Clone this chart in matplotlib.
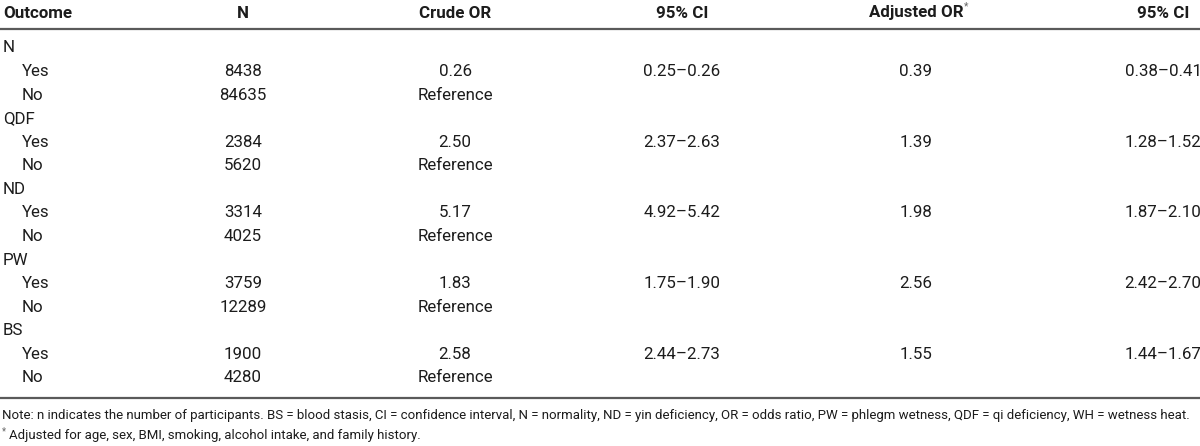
import matplotlib.pyplot as plt

FONT = ["Roboto", "DejaVu Sans"]

headers = ["Outcome", "N", "Crude OR", "95% CI", "Adjusted OR", "95% CI"]
groups = ["N", "QDF", "ND", "PW", "BS"]
n_yes = ["8438", "2384", "3314", "3759", "1900"]
n_no = ["84635", "5620", "4025", "12289", "4280"]
crude_or = ["0.26", "2.50", "5.17", "1.83", "2.58"]
crude_ci = ["0.25\u20130.26", "2.37\u20132.63", "4.92\u20135.42", "1.75\u20131.90", "2.44\u20132.73"]
adj_or = ["0.39", "1.39", "1.98", "2.56", "1.55"]
adj_ci = ["0.38\u20130.41", "1.28\u20131.52", "1.87\u20132.10", "2.42\u20132.70", "1.44\u20131.67"]
note = ("Note: n indicates the number of participants. BS = blood stasis, CI = confidence interval, "
        "N = normality, ND = yin deficiency, OR = odds ratio, PW = phlegm wetness, QDF = qi deficiency, "
        "WH = wetness heat.")
footnote = "Adjusted for age, sex, BMI, smoking, alcohol intake, and family history."

# table rows: group label, then Yes / No
rows = []
for i, g in enumerate(groups):
    rows.append([g, "", "", "", "", ""])
    rows.append(["Yes", n_yes[i], crude_or[i], crude_ci[i], adj_or[i], adj_ci[i]])
    rows.append(["No", n_no[i], "Reference", "", "", ""])

W, H = 1200, 446
fig = plt.figure(figsize=(W / 100, H / 100), dpi=100)
ax = fig.add_axes([0, 0, 1, 1])
ax.set_xlim(0, W); ax.set_ylim(H, 0); ax.axis("off")

col_x = [3, 243, 455, 682, 916, 1163]
TXT = "#1c1c1c"
LINE = "#5a5a5a"
FS = 12.2

# header
hdr = []
for j, h in enumerate(headers):
    ha = "left" if j == 0 else "center"
    hdr.append(ax.text(col_x[j], 13, h, ha=ha, va="center", fontsize=FS, fontweight="bold",
                       family=FONT, color=TXT))
ax.plot([0, W], [29, 29], color=LINE, lw=1.6, solid_capstyle="butt")

# body
y0, dy = 48, 23.57
for r, row in enumerate(rows):
    y = y0 + r * dy
    label = row[0]
    indent = 19 if label in ("Yes", "No") else 0
    ax.text(col_x[0] + indent, y, label, ha="left", va="center", fontsize=FS,
            family=FONT, color=TXT)
    for j in range(1, 6):
        if row[j]:
            ax.text(col_x[j], y, row[j], ha="center", va="center", fontsize=FS,
                    family=FONT, color=TXT)

ax.plot([0, W], [398, 398], color=LINE, lw=1.6, solid_capstyle="butt")

# notes: shrink the note line until it fits the width
t = ax.text(2, 416, note, ha="left", va="center", fontsize=11, family=FONT, color=TXT)
nfs = 11
for _ in range(4):
    fig.canvas.draw()
    w = t.get_window_extent().width
    nfs = nfs * 1186 / w
    t.set_fontsize(nfs)
ax.text(2, 431, "*", ha="left", va="center", fontsize=7, family=FONT, color="#666")
ax.text(9, 436, footnote, ha="left", va="center", fontsize=nfs, family=FONT, color=TXT)

# asterisk just after "Adjusted OR"
fig.canvas.draw()
bb = hdr[4].get_window_extent()
ax.text(bb.x1 + 1, 6, "*", ha="left", va="center", fontsize=7.5, family=FONT, color="#666")

fig.savefig("out.png", dpi=100)
